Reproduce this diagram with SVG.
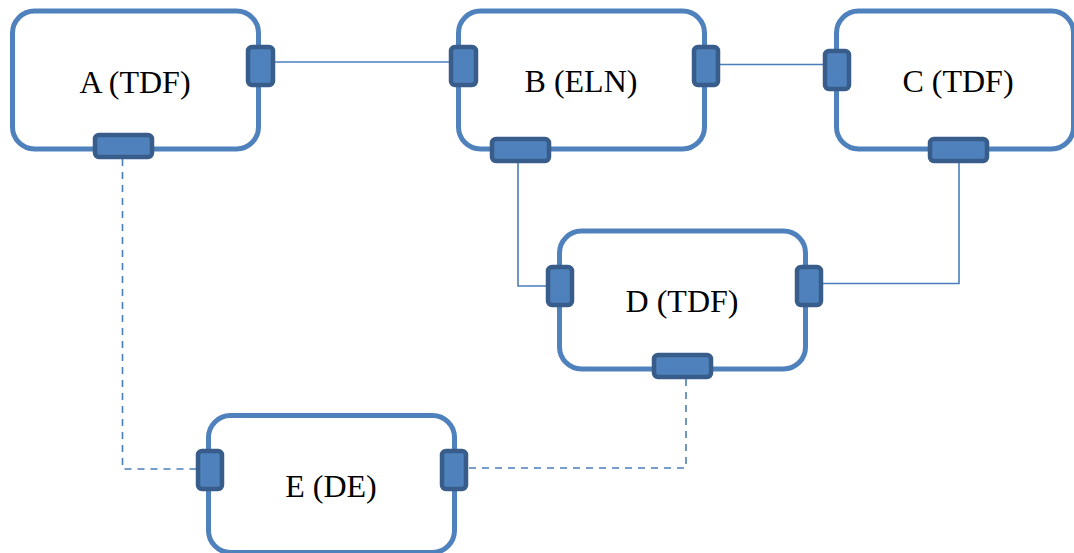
<svg xmlns="http://www.w3.org/2000/svg" width="1074" height="553" viewBox="0 0 1074 553">
<style>
.box{fill:#fff;stroke:#4F81BD;stroke-width:5}
.port{fill:#4F81BD;stroke:#385D8A;stroke-width:4.5}
.lbl{font-family:"Liberation Serif","Times New Roman",serif;font-size:32px;fill:#000;text-anchor:middle}
.wire{fill:none;stroke:#4A7EBB;stroke-width:1.6}
.dash{stroke-dasharray:7 6}
</style>
<rect width="1074" height="553" fill="#fff"/>
<g id="connectors">
<polyline class="wire" points="275,62 449,62"/>
<polyline class="wire" points="720,64.5 823,64.5"/>
<polyline class="wire" points="518,163 518,286 546,286"/>
<polyline class="wire" points="959,163 959,283.5 823,283.5"/>
<polyline class="wire dash" points="122.5,159 122.5,469 196,469"/>
<polyline class="wire dash" points="686,379 686,468 468,468"/>
</g>
<g id="A">
<rect class="box" x="12.5" y="11" width="246" height="138" rx="22"/>
<rect class="port" x="248" y="47" width="25" height="38" rx="4"/>
<rect class="port" x="95" y="135" width="57" height="22" rx="4"/>
<text class="lbl" x="135" y="93">A (TDF)</text>
</g>
<g id="B">
<rect class="box" x="458.5" y="11" width="246" height="138" rx="22"/>
<rect class="port" x="451" y="47" width="25" height="38" rx="4"/>
<rect class="port" x="694" y="47" width="24" height="38" rx="4"/>
<rect class="port" x="492" y="139" width="57" height="22" rx="4"/>
<text class="lbl" x="581" y="92">B (ELN)</text>
</g>
<g id="C">
<rect class="box" x="836.5" y="11" width="237" height="138" rx="22"/>
<rect class="port" x="825" y="51" width="24" height="38" rx="4"/>
<rect class="port" x="930" y="139" width="57" height="22" rx="4"/>
<text class="lbl" x="958" y="92">C (TDF)</text>
</g>
<g id="D">
<rect class="box" x="559.5" y="231" width="246" height="138" rx="22"/>
<rect class="port" x="548" y="267" width="24" height="38" rx="4"/>
<rect class="port" x="797" y="267" width="24" height="38" rx="4"/>
<rect class="port" x="654" y="355" width="57" height="22" rx="4"/>
<text class="lbl" x="682" y="312">D (TDF)</text>
</g>
<g id="E">
<rect class="box" x="208.5" y="415.5" width="246" height="137" rx="22"/>
<rect class="port" x="198" y="451" width="24" height="38" rx="4"/>
<rect class="port" x="442" y="451" width="24" height="38" rx="4"/>
<text class="lbl" x="331" y="497">E (DE)</text>
</g>
</svg>
